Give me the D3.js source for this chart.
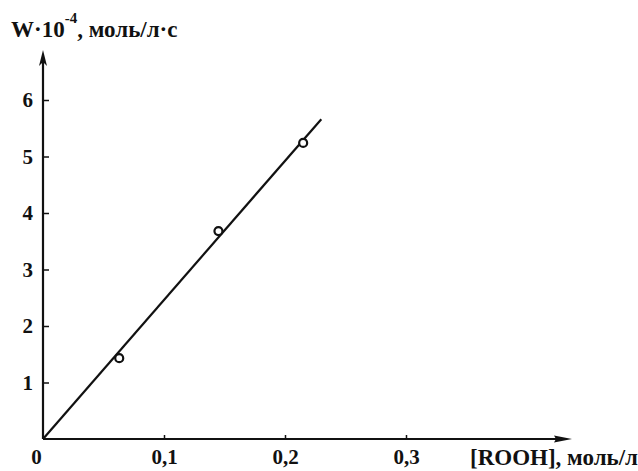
<!DOCTYPE html>
<html>
<head>
<meta charset="utf-8">
<script src="https://cdn.jsdelivr.net/npm/d3@7"></script>
<style>
  body { margin: 0; background: #fff; }
  svg { display: block; }
  text { font-family: "Liberation Serif", "DejaVu Serif", serif; font-weight: bold; fill: #111; }
</style>
</head>
<body>
<script>
// measured points, [ROOH] (моль/л) vs W·10^-4 (моль/л·с)
const rooh = [0.063, 0.145, 0.215]
const rate = [1.43, 3.68, 5.24]
// fitted straight line through origin
const fitX = [0, 0.23]
const fitY = [0, 5.66]
const xTicks = [0, 0.1, 0.2, 0.3]
const yTicks = [1, 2, 3, 4, 5, 6]

const width = 638
const height = 471

const x = d3.scaleLinear().domain([0, 0.1]).range([43, 164])
const y = d3.scaleLinear().domain([0, 6]).range([439, 100])

const svg = d3.select('body').append('svg')
  .attr('width', width)
  .attr('height', height)

const ink = '#111'

// axis lines with arrow heads
svg.append('line')
  .attr('x1', x(0)).attr('y1', y(0))
  .attr('x2', 566).attr('y2', y(0))
  .attr('stroke', ink).attr('stroke-width', 2.2)
svg.append('path')
  .attr('d', `M${572},${y(0)} L${554},${y(0) - 3.5} L${556},${y(0)} L${554},${y(0) + 3.5} Z`)
  .attr('fill', ink)

svg.append('line')
  .attr('x1', x(0)).attr('y1', y(0))
  .attr('x2', x(0)).attr('y2', 58)
  .attr('stroke', ink).attr('stroke-width', 2.2)
svg.append('path')
  .attr('d', `M${x(0)},${50} L${x(0) - 4},${66} L${x(0)},${62} L${x(0) + 4},${66} Z`)
  .attr('fill', ink)

const fmt = d => (d === 0 ? '0' : d3.format('.1f')(d).replace('.', ','))

const xAxis = g =>
  g.attr('transform', `translate(0,${y(0)})`)
    .call(d3.axisBottom(x).tickValues(xTicks).tickFormat(fmt).tickSize(-4).tickPadding(10))
    .call(g => g.select('.domain').remove())
    .call(g => g.selectAll('.tick line').attr('stroke', ink).attr('stroke-width', 1.5))
    .call(g => g.selectAll('.tick').filter(d => d === 0).select('line').remove())
    .call(g => g.selectAll('.tick').filter(d => d === 0).select('text').attr('dx', -7))
    .call(g => g.selectAll('.tick text').attr('font-size', 21).attr('fill', ink))
    .attr('font-family', null)

const yAxis = g =>
  g.attr('transform', `translate(${x(0)},0)`)
    .call(d3.axisLeft(y).tickValues(yTicks).tickFormat(d3.format('d')).tickSize(-6).tickPadding(10))
    .call(g => g.select('.domain').remove())
    .call(g => g.selectAll('.tick line').attr('stroke', ink).attr('stroke-width', 1.5))
    .call(g => g.selectAll('.tick text').attr('font-size', 21).attr('fill', ink))
    .attr('font-family', null)

svg.append('g').call(xAxis)
svg.append('g').call(yAxis)

// fit line
svg.append('path')
  .datum(d3.zip(fitX, fitY))
  .attr('d', d3.line().x(d => x(d[0])).y(d => y(d[1])))
  .attr('fill', 'none')
  .attr('stroke', ink)
  .attr('stroke-width', 2.2)

// data points (open circles)
svg.append('g')
  .selectAll('circle')
  .data(d3.zip(rooh, rate))
  .join('circle')
  .attr('cx', d => x(d[0]))
  .attr('cy', d => y(d[1]))
  .attr('r', 4)
  .attr('fill', '#fff')
  .attr('stroke', ink)
  .attr('stroke-width', 2.2)

// axis titles
const yTitle = svg.append('text')
  .attr('x', 11)
  .attr('y', 37)
  .attr('font-size', 23)
yTitle.append('tspan').text('W·10')
yTitle.append('tspan').attr('dy', -14).attr('font-size', 15).text('-4')
yTitle.append('tspan').attr('dy', 14).text(', моль/л·с')

svg.append('text')
  .attr('x', 470)
  .attr('y', 465)
  .attr('font-size', 23)
  .text('[ROOH], моль/л')
</script>
</body>
</html>
